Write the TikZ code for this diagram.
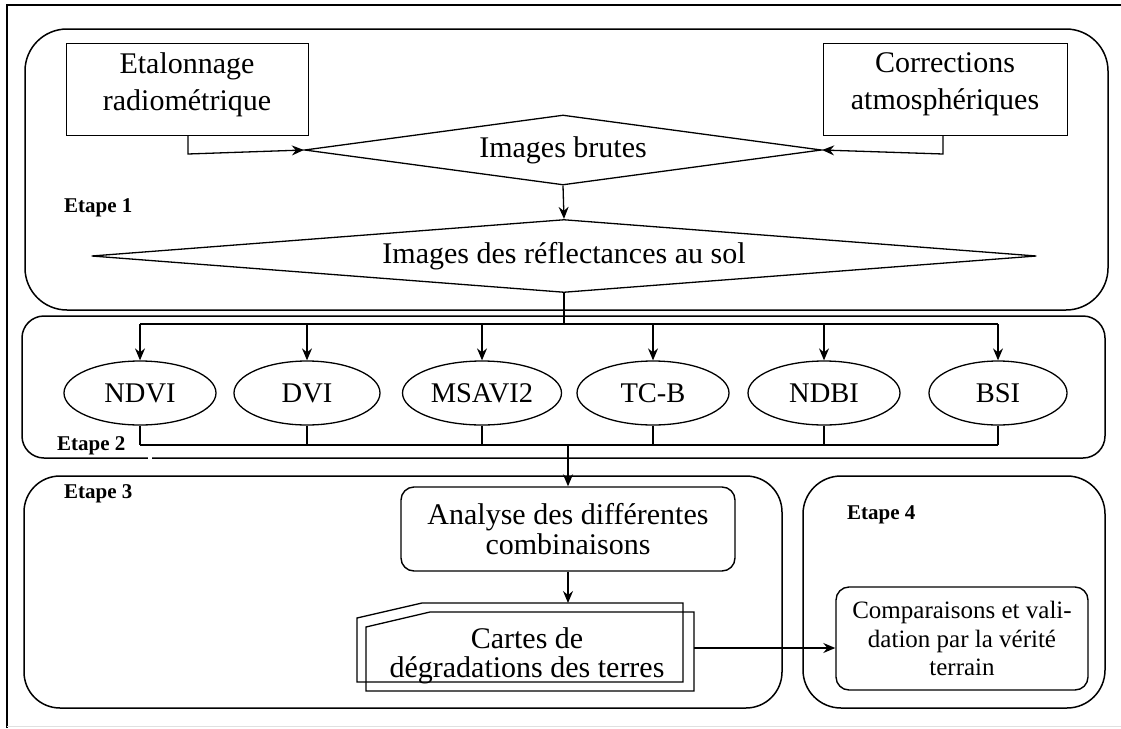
\documentclass[tikz,border=0pt]{standalone}
\usepackage{fontspec}
\setmainfont{Liberation Serif}
\usetikzlibrary{shapes.geometric,arrows.meta}
\tikzset{
  box/.style={draw, line width=1pt, inner sep=0pt, align=center, font=\fontsize{30}{37}\selectfont},
  rbox/.style={draw, line width=1.4pt, rounded corners=13pt, inner sep=0pt, align=center},
  stage/.style={draw, line width=1.5pt},
  dia/.style={draw, diamond, line width=1.3pt, inner sep=0pt, font=\fontsize{30}{36}\selectfont},
  idx/.style={draw, ellipse, line width=1.3pt, inner sep=0pt, minimum width=152pt, minimum height=64pt, font=\fontsize{28.5}{34}\selectfont},
  lab/.style={anchor=west, inner sep=0pt, font=\fontsize{21}{24}\selectfont\bfseries},
  conn/.style={line width=1.3pt},
  arr/.style={conn, -{Stealth[length=12pt,width=10pt,inset=4pt]}},
}
\begin{document}
\begin{tikzpicture}[x=1pt,y=-1pt]
\useasboundingbox (0,0) rectangle (1121,728);
% outer frame
\draw[line width=2.8pt] (7,728) -- (7,5) -- (1121,5);
\draw[black!12, line width=1pt] (7,726) -- (1121,726);

% stage boxes
\draw[stage, rounded corners=42pt] (25,29) rectangle (1108,310);
\draw[stage, rounded corners=22pt] (22,316) rectangle (1105,458);
\draw[white, line width=3pt] (148,458) -- (152,458);
\draw[stage, rounded corners=36pt] (24,476) rectangle (782,708);
\draw[stage, rounded corners=38pt] (803,476) rectangle (1105,708);

% labels
\node[lab] (l1) at (64,208) {Etape 1};
\node[lab] (l2) at (57,446) {Etape 2};
\node[lab] (l3) at (64,494) {Etape 3};
\node[lab] (l4) at (847,515) {Etape 4};

% step 1
\node[box, minimum width=242pt, minimum height=92pt] (etal) at (187,89) {Etalonnage\\radiométrique\vphantom{g}\\[-22pt]};
\node[box, minimum width=244pt, minimum height=92pt] (corr) at (945,89) {Corrections\\atmosphériques\\[-22pt]};
\node[dia, minimum width=517pt, minimum height=70pt, aspect=7.4] (brut) at (563,150) {Images brutes};
\node[dia, minimum width=945pt, minimum height=73pt, aspect=12.9] (refl) at (564,256) {Images des réflectances au sol};

\coordinate (ce) at (188,154);
\coordinate (cc) at (943,154);
\draw[arr] (etal.south -| ce) -- (ce) -- (brut.west);
\draw[arr] (corr.south -| cc) -- (cc) -- (brut.east);
\draw[arr] (brut.south) -- (refl.north);

% step 2
\node[idx] (e1) at (140,393) {NDVI};
\node[idx, minimum width=146pt] (e2) at (307,393) {DVI};
\node[idx, minimum width=159pt] (e3) at (482,393) {MSAVI2};
\node[idx] (e4) at (653,393) {TC-B};
\node[idx] (e5) at (824,393) {NDBI};
\node[idx, minimum width=138pt] (e6) at (998,393) {BSI};

\coordinate (dist) at (564,324);
\coordinate (coll) at (568,445);
\draw[conn] (refl.south) -- (dist);
\draw[conn] (e1 |- dist) -- (e6 |- dist);
\foreach \e in {e1,e2,e3,e4,e5,e6}{
  \draw[arr] (\e |- dist) -- (\e.north);
  \draw[conn] (\e.south) -- (\e |- coll);
}
\draw[conn] (e1 |- coll) -- (e6 |- coll);

% step 3
\node[rbox, minimum width=334pt, minimum height=84pt, font=\fontsize{30}{30}\selectfont] (anal) at (568,529) {Analyse des différentes\\combinaisons};
\draw[arr] (coll) -- (anal.north);

\draw[line width=1.3pt] (357,618) -- (422,603) -- (683,603) -- (683,682) -- (357,682) -- cycle;
\draw[line width=1.3pt] (366,627) -- (430,612) -- (694,612) -- (694,691) -- (366,691) -- cycle;
\node[inner sep=0pt, align=center, font=\fontsize{30}{29}\selectfont] (cart) at (527,656) {Cartes de\\dégradations des terres};
\coordinate (cartR) at (694,648);
\draw[arr] (anal.south) -- (anal.south |- 0,603);

% step 4
\node[rbox, minimum width=252pt, minimum height=103pt, font=\fontsize{25}{28.3}\selectfont] (comp) at (962,638.5) {Comparaisons et vali-\\dation par la vérité\\terrain};
\draw[arr] (cartR) -- (cartR -| comp.west);
\end{tikzpicture}
\end{document}
